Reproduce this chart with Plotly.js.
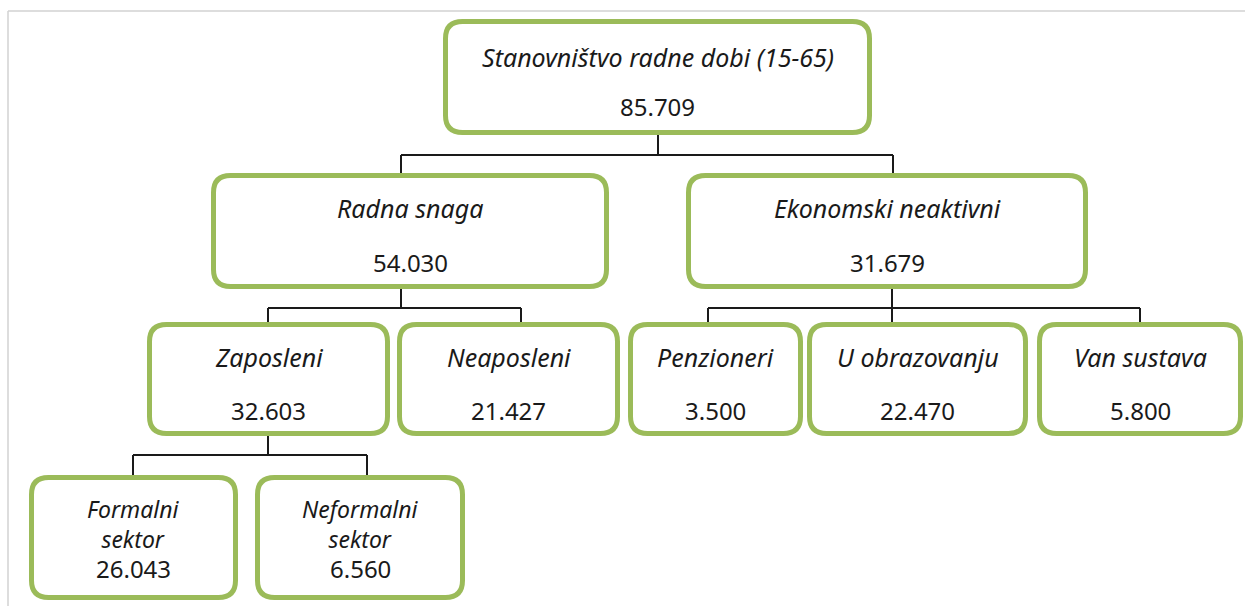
<!DOCTYPE html>
<html>
<head>
<meta charset="utf-8">
<script src="https://cdn.plot.ly/plotly-3.0.1.min.js"></script>
<style>html,body{margin:0;padding:0;background:#fff;}#chart{width:1245px;height:606px;}</style>
</head>
<body>
<div id="chart"></div>
<script>
// ---- data ----
const nodeLabels = [
  "Stanovništvo radne dobi (15-65)",
  "Radna snaga",
  "Ekonomski neaktivni",
  "Zaposleni",
  "Neaposleni",
  "Penzioneri",
  "U obrazovanju",
  "Van sustava",
  "Formalni<br>sektor",
  "Neformalni<br>sektor"
];
const nodeValues = [85709, 54030, 31679, 32603, 21427, 3500, 22470, 5800, 26043, 6560];
const nodeParents = [-1, 0, 0, 1, 1, 2, 2, 2, 3, 3];

// ---- layout geometry (pixels) ----
const boxes = [
  [443, 19, 872, 135],
  [211, 173, 609, 289],
  [686, 173, 1088, 289],
  [147, 322, 390, 436],
  [397, 322, 620, 436],
  [628, 322, 803, 436],
  [807, 322, 1028, 436],
  [1037, 322, 1243, 436],
  [29, 475, 238, 600],
  [255, 475, 465, 600]
];
// label y (centre), value y
const textY = [
  [57, 106], [208, 262], [208, 262],
  [357, 410], [357, 410], [357, 410], [357, 410], [357, 410],
  [523.5, 568], [523.5, 568]
];
// connector: parent index -> stem x, bus y, child drop x's
const connectors = [
  {p: 0, stem: 658, bus: 155, drops: [401, 893]},
  {p: 1, stem: 401, bus: 308, drops: [268, 521]},
  {p: 2, stem: 892, bus: 308, drops: [708, 892, 1140]},
  {p: 3, stem: 268, bus: 455, drops: [133, 367]}
];

function fmt(v) {
  return String(v).replace(/\B(?=(\d{3})+(?!\d))/g, ".");
}
function roundRect(x0, y0, x1, y1, r) {
  return `M${x0 + r},${y0} L${x1 - r},${y0} Q${x1},${y0} ${x1},${y0 + r} ` +
         `L${x1},${y1 - r} Q${x1},${y1} ${x1 - r},${y1} L${x0 + r},${y1} ` +
         `Q${x0},${y1} ${x0},${y1 - r} L${x0},${y0 + r} Q${x0},${y0} ${x0 + r},${y0} Z`;
}

const shapes = [];
// outer frame
shapes.push({type: 'line', xref: 'x', yref: 'y', x0: 8, y0: 11, x1: 1245, y1: 11, line: {color: '#d2d2d2', width: 1.5}});
shapes.push({type: 'line', xref: 'x', yref: 'y', x0: 8, y0: 11, x1: 8, y1: 606, line: {color: '#d2d2d2', width: 1.5}});

// connectors
connectors.forEach(c => {
  const pb = boxes[c.p];
  const kids = nodeParents.map((p, i) => p === c.p ? i : -1).filter(i => i >= 0);
  const lc = {color: '#1a1a1a', width: 2};
  shapes.push({type: 'line', xref: 'x', yref: 'y', x0: c.stem, y0: pb[3], x1: c.stem, y1: c.bus, line: lc});
  const xs = c.drops;
  shapes.push({type: 'line', xref: 'x', yref: 'y', x0: Math.min(...xs), y0: c.bus, x1: Math.max(...xs), y1: c.bus, line: lc});
  kids.forEach((k, j) => {
    shapes.push({type: 'line', xref: 'x', yref: 'y', x0: xs[j], y0: c.bus, x1: xs[j], y1: boxes[k][1] + 2, line: lc});
  });
});

// boxes
boxes.forEach(b => {
  const s = 2.5;
  shapes.push({
    type: 'path', xref: 'x', yref: 'y',
    path: roundRect(b[0] + s, b[1] + s, b[2] - s, b[3] - s, 17),
    fillcolor: '#ffffff',
    line: {color: '#9bbb59', width: 5}
  });
});

const annotations = [];
const fontFam = '"Noto Sans", "Open Sans", sans-serif';
nodeLabels.forEach((lab, i) => {
  const b = boxes[i];
  const cx = (b[0] + b[2]) / 2;
  const multi = lab.indexOf('<br>') >= 0;
  annotations.push({
    xref: 'x', yref: 'y', x: cx, y: textY[i][0], text: '<i>' + lab + '</i>',
    showarrow: false, xanchor: 'center', yanchor: 'middle', borderpad: 0,
    font: {family: fontFam, size: multi ? 23 : 25, color: '#1a1a1a'}
  });
  annotations.push({
    xref: 'x', yref: 'y', x: cx, y: textY[i][1], text: fmt(nodeValues[i]),
    showarrow: false, xanchor: 'center', yanchor: 'middle', borderpad: 0,
    font: {family: fontFam, size: 24, color: '#1a1a1a'}
  });
});

const layout = {
  width: 1245, height: 606,
  margin: {l: 0, r: 0, t: 0, b: 0},
  paper_bgcolor: '#ffffff', plot_bgcolor: '#ffffff',
  xaxis: {range: [0, 1245], visible: false, fixedrange: true},
  yaxis: {range: [606, 0], visible: false, fixedrange: true},
  showlegend: false,
  shapes: shapes,
  annotations: annotations
};

Plotly.newPlot('chart', [{type: 'scatter', x: [], y: [], mode: 'markers', hoverinfo: 'skip'}], layout, {staticPlot: true});
</script>
</body>
</html>
